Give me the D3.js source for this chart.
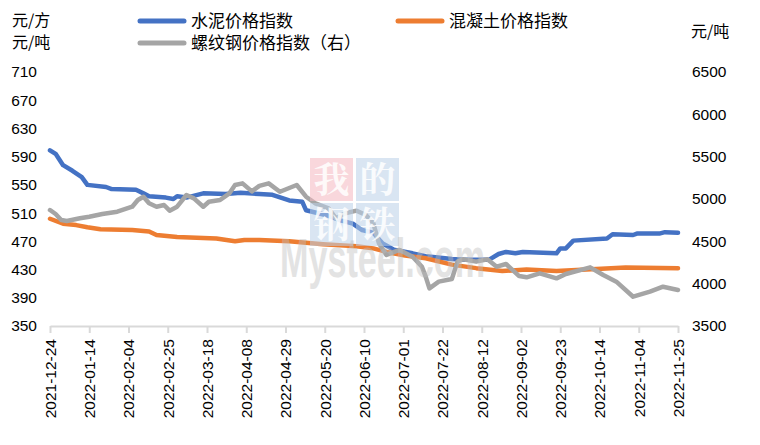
<!DOCTYPE html>
<meta charset="utf-8">
<style>
    body {
        margin: 0;
        background: #fff;
    }
    svg {
        font-family: "Liberation Sans", Arial, sans-serif;
    }
    .cn {
        font-family: "Noto Sans CJK SC", sans-serif;
    }
    .axis path,
    .axis line {
        fill: none;
        stroke: #d9d9d9;
        stroke-width: 2;
    }
    .line {
        fill: none;
        stroke-width: 4.5;
        stroke-linejoin: round;
        stroke-linecap: round;
    }
</style>
<body>
<script src="https://cdn.jsdelivr.net/npm/d3@7"></script>
<script>
    // values
    const cementData = [
        ["2021-12-24",599],["2021-12-27",594],["2021-12-31",578],["2022-01-05",570],["2022-01-10",561],
        ["2022-01-13",550],["2022-01-23",547],["2022-01-26",544],["2022-02-08",543],["2022-02-12",538],
        ["2022-02-15",534],["2022-02-24",532],["2022-02-28",530],["2022-03-02",534],["2022-03-07",532],
        ["2022-03-16",538],["2022-03-28",537],["2022-04-05",539],["2022-04-15",537],["2022-04-22",536],
        ["2022-05-01",528],["2022-05-08",526],["2022-05-10",514],["2022-05-21",507],["2022-05-28",500],
        ["2022-06-04",495],["2022-06-09",486],["2022-06-15",482],["2022-06-20",467],["2022-06-26",458],
        ["2022-07-06",453],["2022-07-13",449],["2022-07-27",445],["2022-08-02",444],["2022-08-16",444],
        ["2022-08-21",452],["2022-08-25",455],["2022-08-30",453],["2022-09-03",455],["2022-09-21",453],
        ["2022-09-23",460],["2022-09-26",460],["2022-09-30",471],["2022-10-18",474],["2022-10-21",480],
        ["2022-11-01",479],["2022-11-03",481],["2022-11-15",481],["2022-11-18",483],["2022-11-25",482]
    ];
    const concreteData = [
        ["2021-12-24",502],["2021-12-31",495],["2022-01-07",493],["2022-01-13",490],["2022-01-20",487],
        ["2022-02-06",486],["2022-02-15",484],["2022-02-19",479],["2022-03-02",476],["2022-03-23",474],
        ["2022-04-02",470],["2022-04-07",472],["2022-04-15",472],["2022-05-01",470],["2022-05-19",466],
        ["2022-06-06",463],["2022-06-15",460],["2022-06-22",455],["2022-07-02",450],["2022-07-13",446],
        ["2022-07-27",437],["2022-08-09",432],["2022-08-23",428],["2022-09-05",430],["2022-09-21",428],
        ["2022-10-15",431],["2022-10-28",433],["2022-11-25",432]
    ];
    const rebarData = [
        ["2021-12-24",4870],["2021-12-27",4823],["2021-12-30",4752],["2022-01-02",4740],["2022-01-09",4772],
        ["2022-01-14",4791],["2022-01-21",4823],["2022-01-29",4850],["2022-02-06",4909],["2022-02-09",4988],
        ["2022-02-12",5027],["2022-02-15",4949],["2022-02-19",4909],["2022-02-23",4929],["2022-02-26",4862],
        ["2022-03-02",4909],["2022-03-07",5047],["2022-03-11",5008],["2022-03-16",4909],["2022-03-19",4968],
        ["2022-03-25",4988],["2022-03-30",5067],["2022-04-02",5165],["2022-04-06",5185],["2022-04-11",5090],
        ["2022-04-15",5155],["2022-04-20",5185],["2022-04-26",5086],["2022-05-05",5165],["2022-05-10",5027],
        ["2022-05-15",4949],["2022-05-22",4890],["2022-05-26",4772],["2022-05-31",4831],["2022-06-06",4862],
        ["2022-06-11",4811],["2022-06-15",4713],["2022-06-18",4477],["2022-06-22",4339],["2022-06-29",4398],
        ["2022-07-06",4319],["2022-07-11",4200],["2022-07-13",4083],["2022-07-15",3945],["2022-07-20",4024],
        ["2022-07-27",4055],["2022-07-30",4260],["2022-08-02",4288],["2022-08-09",4260],["2022-08-15",4288],
        ["2022-08-20",4201],["2022-08-25",4232],["2022-09-01",4090],["2022-09-05",4075],["2022-09-12",4122],
        ["2022-09-21",4063],["2022-09-26",4114],["2022-10-09",4193],["2022-10-16",4102],["2022-10-23",4024],
        ["2022-11-01",3846],["2022-11-10",3905],["2022-11-17",3964],["2022-11-25",3925]
    ];

    const dateTicks = ["2021-12-24","2022-01-14","2022-02-04","2022-02-25","2022-03-18","2022-04-08",
        "2022-04-29","2022-05-20","2022-06-10","2022-07-01","2022-07-22","2022-08-12","2022-09-02",
        "2022-09-23","2022-10-14","2022-11-04","2022-11-25"];
    const leftTicks = [350, 390, 430, 470, 510, 550, 590, 630, 670, 710];
    const rightTicks = [3500, 4000, 4500, 5000, 5500, 6000, 6500];

    const names = ["水泥价格指数", "混凝土价格指数", "螺纹钢价格指数（右）"];
    const colors = ["#4472c4", "#ed7d31", "#a5a5a5"];

    const width = 760, height = 445;
    const parse = d3.timeParse("%Y-%m-%d");

    const svg = d3.select("body").append("svg")
        .attr("width", width)
        .attr("height", height);

    const x = d3.scaleTime()
        .domain([parse(dateTicks[0]), parse(dateTicks[dateTicks.length - 1])])
        .range([50, 678]);
    const yL = d3.scaleLinear().domain([350, 710]).range([326, 72]);
    const yR = d3.scaleLinear().domain([3500, 6500]).range([326, 72]);

    // x axis
    const xAxis = d3.axisBottom(x)
        .tickValues(dateTicks.map(parse))
        .tickSize(7)
        .tickSizeOuter(0)
        .tickFormat(d3.timeFormat("%Y-%m-%d"));

    const gx = svg.append("g")
        .attr("class", "axis")
        .attr("transform", "translate(0,326)")
        .call(xAxis);
    gx.selectAll("text")
        .attr("transform", "rotate(-90)")
        .attr("x", -13)
        .attr("y", 0)
        .attr("dy", "0.35em")
        .style("text-anchor", "end")
        .style("font-size", "15.5px")
        .style("fill", "#000");

    // left axis labels
    svg.append("g").selectAll("text")
        .data(leftTicks)
        .enter().append("text")
        .attr("x", 37)
        .attr("y", d => yL(d))
        .attr("dy", "0.35em")
        .style("text-anchor", "end")
        .style("font-size", "15.5px")
        .text(d => d);

    // right axis labels
    svg.append("g").selectAll("text")
        .data(rightTicks)
        .enter().append("text")
        .attr("x", 692)
        .attr("y", d => yR(d))
        .attr("dy", "0.35em")
        .style("font-size", "15.5px")
        .text(d => d);

    // unit labels
    svg.append("text").attr("class", "cn").attr("x", 12).attr("y", 20).attr("dy", "0.35em")
        .style("font-size", "16px").text("元/方");
    svg.append("text").attr("class", "cn").attr("x", 12).attr("y", 42).attr("dy", "0.35em")
        .style("font-size", "16px").text("元/吨");
    svg.append("text").attr("class", "cn").attr("x", 691).attr("y", 31).attr("dy", "0.35em")
        .style("font-size", "16px").text("元/吨");

    // lines
    const lineL = d3.line().x(d => x(parse(d[0]))).y(d => yL(d[1]));
    const lineR = d3.line().x(d => x(parse(d[0]))).y(d => yR(d[1]));

    svg.append("path").datum(cementData).attr("class", "line")
        .attr("d", lineL).style("stroke", colors[0]);
    svg.append("path").datum(concreteData).attr("class", "line")
        .attr("d", lineL).style("stroke", colors[1]);
    svg.append("path").datum(rebarData).attr("class", "line")
        .attr("d", lineR).style("stroke", colors[2]);

    // watermark
    const wm = svg.append("g").style("pointer-events", "none");
    const boxes = [
        {c: "我", x: 310, y: 158, f: "#f4b6bf"},
        {c: "的", x: 356, y: 158, f: "#b9cfe8"},
        {c: "钢", x: 310, y: 203, f: "#b9cfe8"},
        {c: "铁", x: 356, y: 203, f: "#b9cfe8"}
    ];
    boxes.forEach(b => {
        wm.append("rect").attr("x", b.x).attr("y", b.y).attr("width", 43).attr("height", 43)
            .style("fill", b.f).style("opacity", 0.55);
        wm.append("text").attr("class", "cn").attr("x", b.x + 21.5).attr("y", b.y + 22)
            .attr("dy", "0.36em").style("text-anchor", "middle")
            .style("font-size", "36px").style("font-family", "'Noto Serif CJK SC','Noto Sans CJK SC',serif")
            .style("font-weight", "bold").style("fill", "#fff").style("opacity", 0.85)
            .text(b.c);
    });
    wm.append("text")
        .attr("x", 280).attr("y", 277)
        .attr("textLength", 205).attr("lengthAdjust", "spacingAndGlyphs")
        .style("font-size", "56px").style("font-weight", "bold")
        .style("fill", "#bdbdbd").style("opacity", 0.42)
        .text("Mysteel.com");

    // legend
    const legendPos = [{x: 140, y: 21}, {x: 398, y: 21}, {x: 140, y: 43}];
    const legend = svg.append("g").selectAll("g")
        .data(names)
        .enter().append("g")
        .attr("transform", (d, i) => "translate(" + legendPos[i].x + "," + legendPos[i].y + ")");
    legend.append("line")
        .attr("x1", 0).attr("x2", 44)
        .style("stroke", (d, i) => colors[i])
        .style("stroke-width", 5)
        .style("stroke-linecap", "round");
    legend.append("text")
        .attr("class", "cn")
        .attr("x", 51)
        .attr("dy", "0.35em")
        .style("font-size", "17px")
        .text(d => d);
</script>
</body>
</html>
